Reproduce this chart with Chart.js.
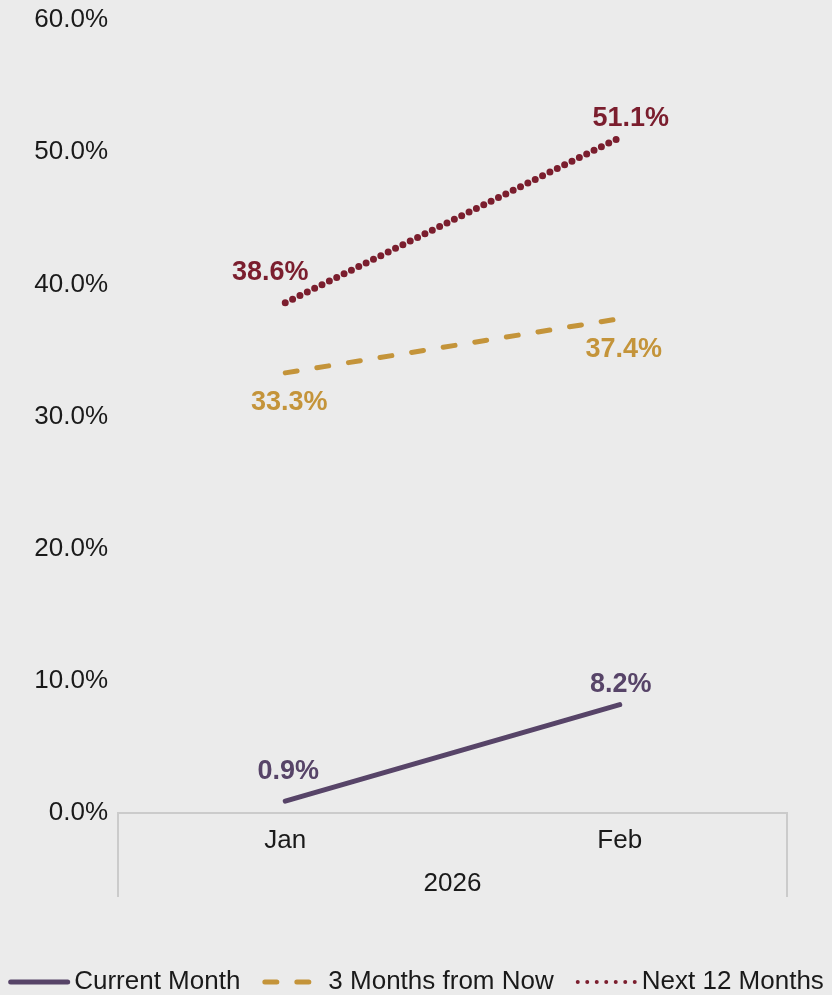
<!DOCTYPE html>
<html>
<head>
<meta charset="utf-8">
<title>Outlook 2026</title>
<script src="https://cdn.jsdelivr.net/npm/chart.js"></script>
<style>
  html, body { margin: 0; padding: 0; background: #ebebeb; }
  #wrap { width: 832px; height: 995px; }
</style>
</head>
<body>
<div id="wrap"><canvas id="chart" width="832" height="995"></canvas></div>
<script>
const months = ['Jan', 'Feb'];
const year = '2026';
const seriesNames = ['Current Month', '3 Months from Now', 'Next 12 Months'];
const currentMonth = [0.9, 8.2];
const threeMonths = [33.3, 37.4];
const nextTwelve = [38.6, 51.1];
const yMin = 0, yMax = 60, yStep = 10;

const FONT = '"Liberation Sans", Arial, Helvetica, sans-serif';
const TEXT = '#1a1a1a';
const colors = ['#574468', '#c4943a', '#7b1e2e'];

// where each value label sits relative to its point [dx, dy]
const labelOffsets = [
  [[3, -30], [1, -20]],
  [[4, 30], [4, 31]],
  [[-15, -30], [11, -19]]
];

// legend swatches
const legendDash = [[], [12, 20], [0, 9.5]];
const legendWidth = [5, 5, 4];

const valueLabels = {
  id: 'valueLabels',
  afterDatasetsDraw(chart) {
    const ctx = chart.ctx;
    ctx.save();
    ctx.font = 'bold 27px ' + FONT;
    ctx.textAlign = 'center';
    ctx.textBaseline = 'middle';
    chart.data.datasets.forEach((ds, i) => {
      const meta = chart.getDatasetMeta(i);
      ctx.fillStyle = ds.borderColor;
      meta.data.forEach((pt, j) => {
        const [dx, dy] = labelOffsets[i][j];
        ctx.fillText(ds.data[j].toFixed(1) + '%', pt.x + dx, pt.y + dy);
      });
    });
    ctx.restore();
  }
};

// side rules of the category box under the plot
const axisFrame = {
  id: 'axisFrame',
  afterDraw(chart) {
    const {ctx, chartArea} = chart;
    const xs = chart.scales.x;
    ctx.save();
    ctx.strokeStyle = '#cbcbcb';
    ctx.lineWidth = 2;
    ctx.beginPath();
    ctx.moveTo(chartArea.left, xs.top);
    ctx.lineTo(chartArea.left, xs.bottom);
    ctx.moveTo(chartArea.right, xs.top);
    ctx.lineTo(chartArea.right, xs.bottom);
    ctx.stroke();
    ctx.restore();
  }
};

const lineLegend = {
  id: 'lineLegend',
  afterDraw(chart) {
    const ctx = chart.ctx;
    const y = 982, sw = 62, tgap = 4, gap = 22;
    ctx.save();
    ctx.font = '26px ' + FONT;
    const items = chart.data.datasets.map(ds => ({ds, tw: ctx.measureText(ds.label).width}));
    const total = items.reduce((s, it) => s + sw + tgap + it.tw, 0) + gap * (items.length - 1);
    let x = (chart.width - total) / 2;
    items.forEach((it, i) => {
      const w = legendWidth[i];
      ctx.strokeStyle = it.ds.borderColor;
      ctx.lineWidth = w;
      ctx.lineCap = 'round';
      ctx.setLineDash(legendDash[i]);
      ctx.beginPath();
      ctx.moveTo(x + w / 2, y);
      ctx.lineTo(x + sw - w / 2, y);
      ctx.stroke();
      ctx.setLineDash([]);
      ctx.fillStyle = TEXT;
      ctx.textAlign = 'left';
      ctx.textBaseline = 'middle';
      ctx.fillText(it.ds.label, x + sw + tgap, y);
      x += sw + tgap + it.tw + gap;
    });
    ctx.restore();
  }
};

new Chart(document.getElementById('chart'), {
  type: 'line',
  data: {
    labels: months,
    datasets: [
      {
        label: seriesNames[0],
        data: currentMonth,
        borderColor: colors[0],
        borderWidth: 5,
        borderCapStyle: 'round'
      },
      {
        label: seriesNames[1],
        data: threeMonths,
        borderColor: colors[1],
        borderWidth: 5,
        borderDash: [12, 20],
        borderCapStyle: 'round'
      },
      {
        label: seriesNames[2],
        data: nextTwelve,
        borderColor: colors[2],
        borderWidth: 7,
        borderDash: [0, 8.2],
        borderCapStyle: 'round'
      }
    ]
  },
  options: {
    responsive: false,
    devicePixelRatio: 1,
    animation: false,
    elements: { point: { radius: 0, hoverRadius: 0 }, line: { tension: 0 } },
    layout: { padding: { top: 20, bottom: 98, left: 0, right: 45 } },
    plugins: { legend: { display: false }, tooltip: { enabled: false } },
    scales: {
      y: {
        min: yMin,
        max: yMax,
        grid: { display: false },
        border: { display: false },
        ticks: {
          stepSize: yStep,
          padding: 2,
          color: TEXT,
          font: { family: FONT, size: 26 },
          callback: v => v.toFixed(1) + '%'
        },
        afterFit(scale) { scale.width = 118; }
      },
      x: {
        offset: true,
        grid: { display: false },
        border: { display: true, color: '#cbcbcb', width: 2 },
        ticks: {
          padding: 4,
          color: TEXT,
          font: { family: FONT, size: 26 }
        },
        title: {
          display: true,
          text: year,
          color: TEXT,
          font: { family: FONT, size: 26, lineHeight: 1 },
          padding: { top: 0, bottom: 0 }
        },
        afterFit(scale) { scale.height = 84; }
      }
    }
  },
  plugins: [valueLabels, axisFrame, lineLegend]
});
</script>
</body>
</html>
